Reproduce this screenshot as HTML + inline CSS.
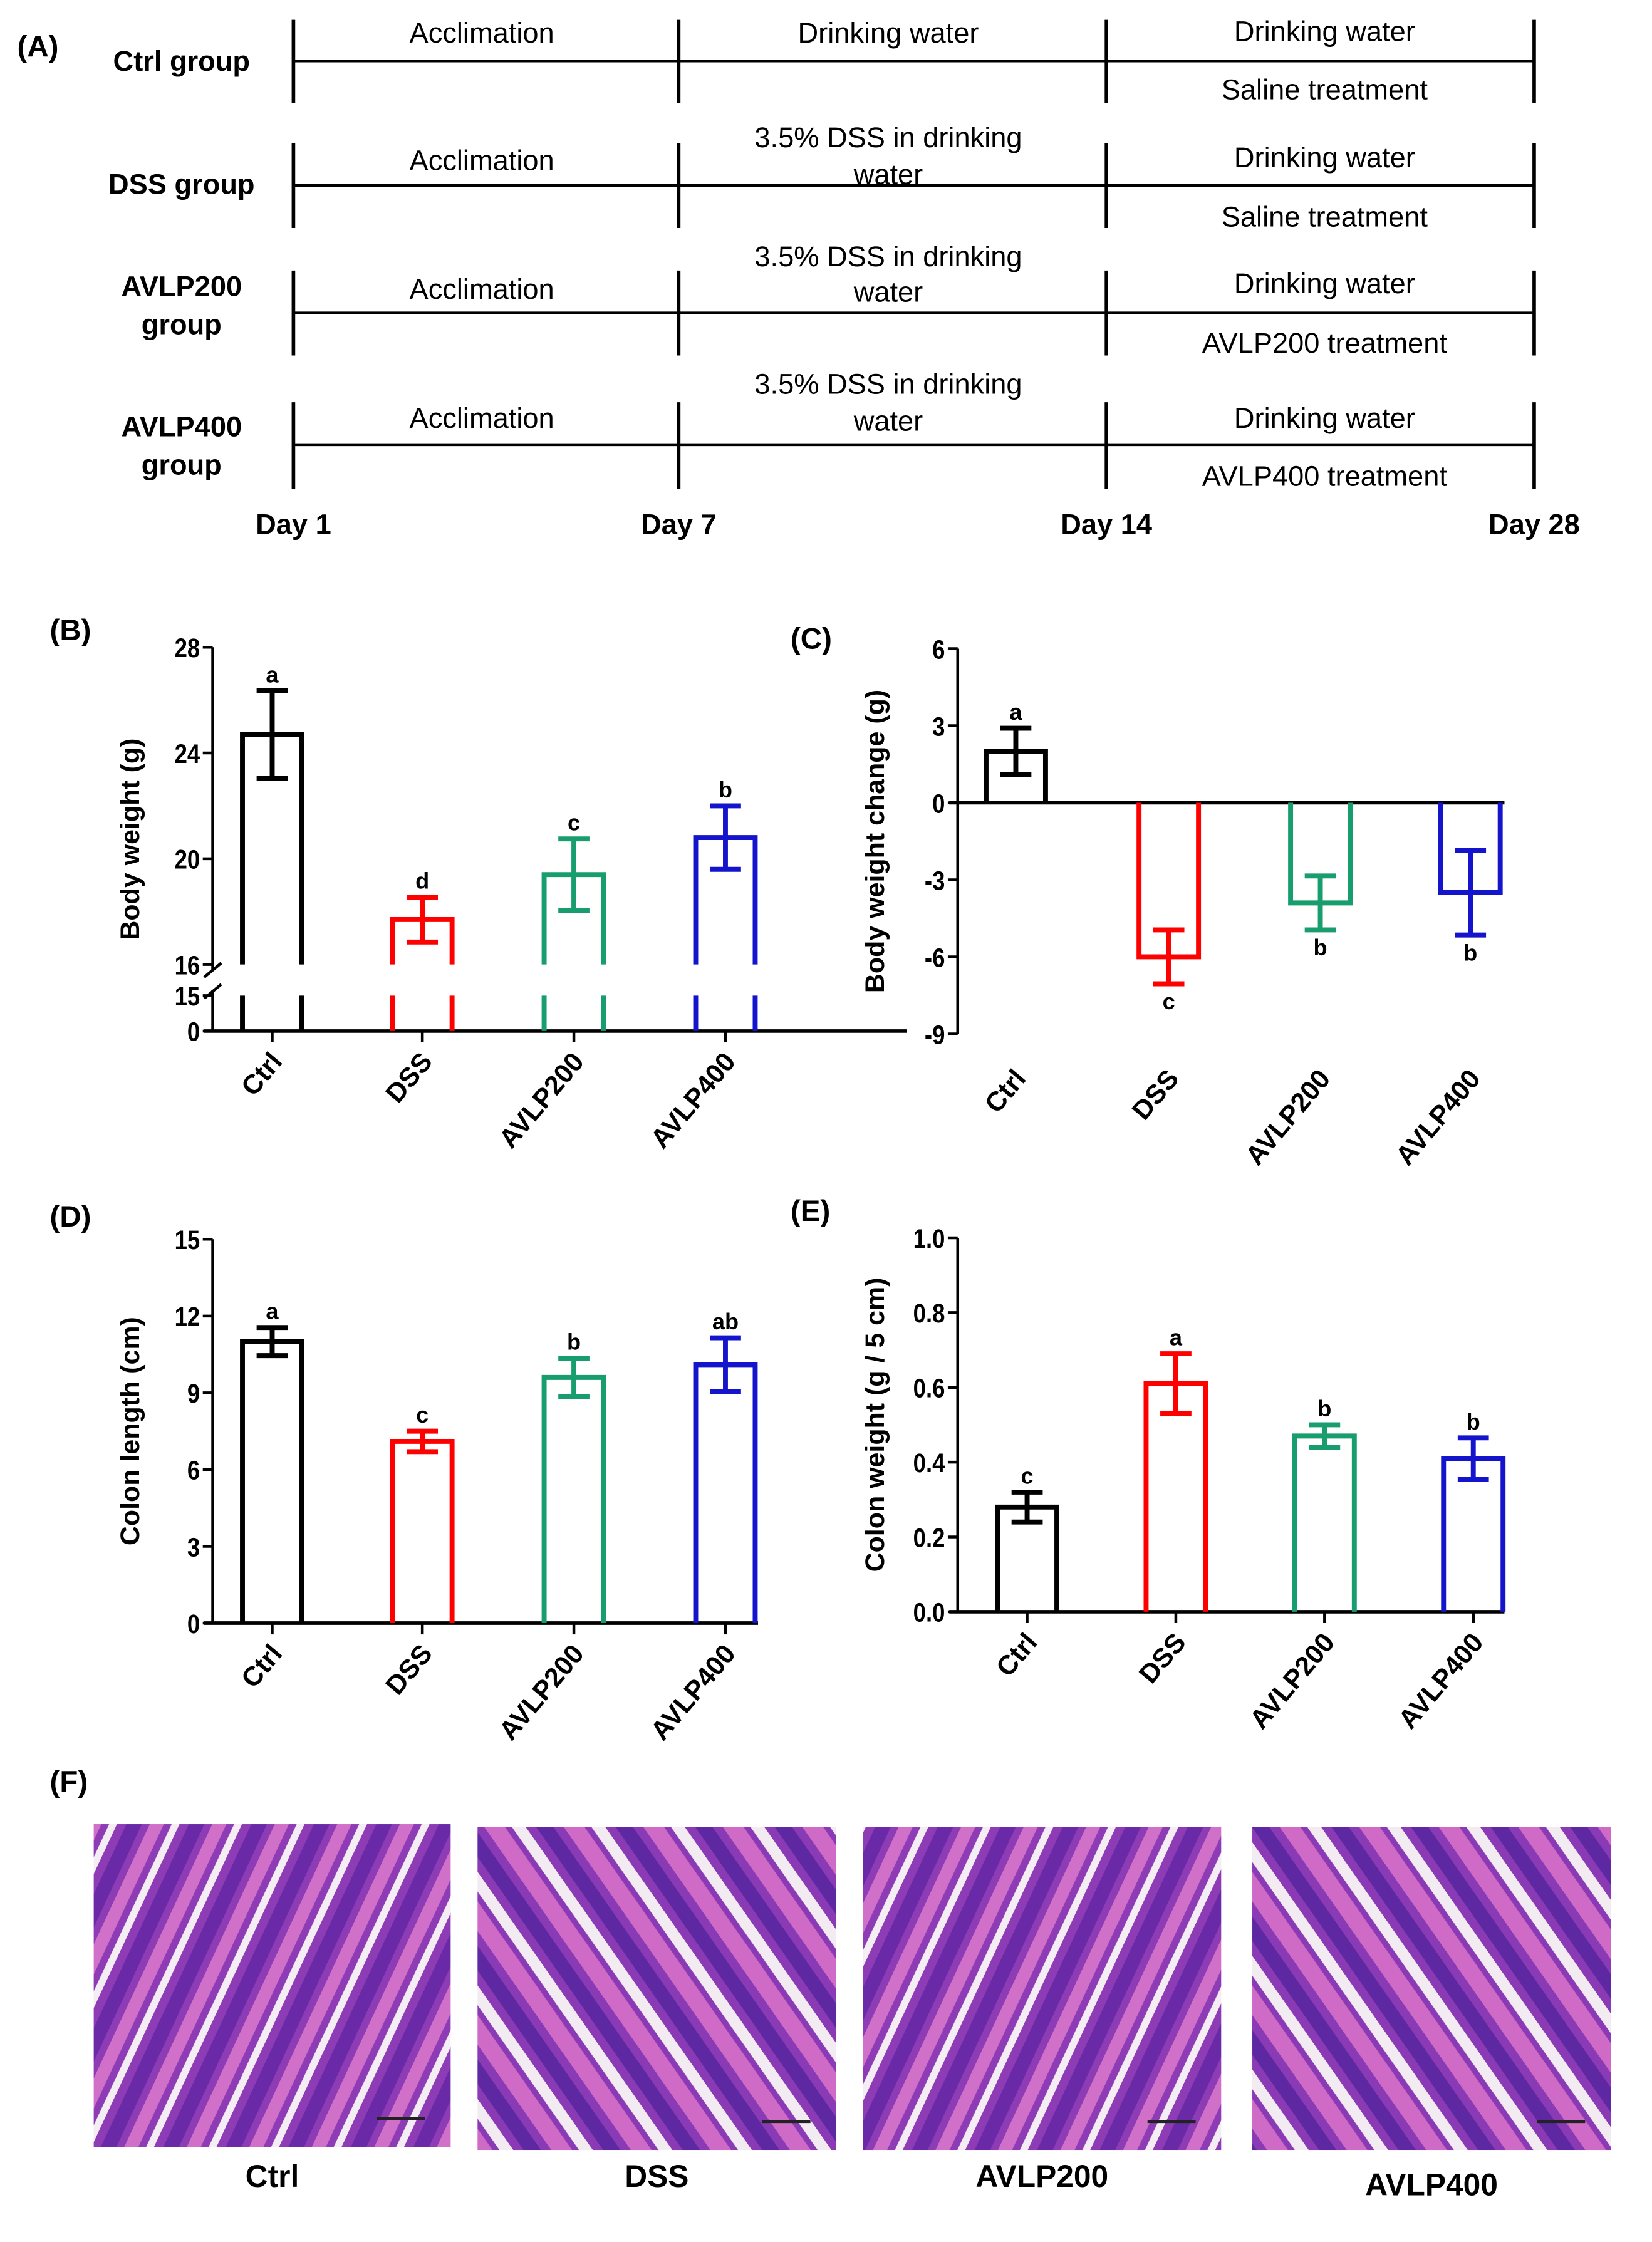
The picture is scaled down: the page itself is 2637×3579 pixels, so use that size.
<!DOCTYPE html>
<html><head><meta charset="utf-8"><style>
html,body{margin:0;padding:0;background:#fff}
svg{display:block}
text{font-family:"Liberation Sans",sans-serif}
</style></head><body>
<svg id="fig" width="2637" height="3579" viewBox="0 0 1166 1583" xmlns="http://www.w3.org/2000/svg">
<defs>
<pattern id="tis" width="40" height="40" patternUnits="userSpaceOnUse" patternTransform="rotate(25)">
<rect width="40" height="40" fill="#8e3cb5"/>
<rect x="0" y="0" width="9" height="40" fill="#d070c8"/>
<rect x="14" y="0" width="5" height="40" fill="#f4eef4"/>
<rect x="25" y="0" width="10" height="40" fill="#6a2aa8"/>
</pattern>
<pattern id="tis2" width="46" height="46" patternUnits="userSpaceOnUse" patternTransform="rotate(-35)">
<rect width="46" height="46" fill="#8a3ab4"/>
<rect x="0" y="0" width="12" height="46" fill="#cf6ac6"/>
<rect x="16" y="0" width="8" height="46" fill="#f2ecf2"/>
<rect x="30" y="0" width="10" height="46" fill="#5e28a2"/>
</pattern>
</defs>
<g id="panelA"></g>
<g id="charts"></g>
<g id="panelF"></g>
</svg>
<script>
const NS="http://www.w3.org/2000/svg";
const svg=document.getElementById('fig');
function el(tag,attrs,parent,txt){const e=document.createElementNS(NS,tag);for(const k in attrs)e.setAttribute(k,attrs[k]);if(txt!==undefined)e.textContent=txt;(parent||svg).appendChild(e);return e;}

// ---------- Panel A ----------
const A=document.getElementById('panelA');
const pl=el('text',{x:12,y:40,'font-family':'Liberation Serif','font-weight':'bold','font-size':21},A,'(A)');


const rowsY=[43,131,221,314];
const rowTop=[14,101,191,284];
const rowBot=[73,161,251,345];
const vx=[207,479,781,1083];
const groupNames=[['Ctrl group'],['DSS group'],['AVLP200','group'],['AVLP400','group']];
const groupNameY=[[50],[137],[209,236],[308,335]];
const seg1=['Acclimation','Acclimation','Acclimation','Acclimation'];
const seg1Y=[30,120,211,302];
const seg2=[['Drinking water'],['3.5% DSS in drinking','water'],['3.5% DSS in drinking','water'],['3.5% DSS in drinking','water']];
const seg2Y=[[30],[104,130],[188,213],[278,304]];
const seg3a=['Drinking water','Drinking water','Drinking water','Drinking water'];
const seg3aY=[29,118,207,302];
const seg3b=['Saline treatment','Saline treatment','AVLP200 treatment','AVLP400 treatment'];
const seg3bY=[70,160,249,343];
for(let i=0;i<4;i++){
  const l=el('line',{x1:vx[0],x2:vx[3],y1:rowsY[i],y2:rowsY[i],stroke:'#000','stroke-width':2},A);
  
  
  vx.forEach(x=>el('line',{x1:x,x2:x,y1:rowTop[i],y2:rowBot[i],stroke:'#000','stroke-width':2.5},A));
  groupNames[i].forEach((t,j)=>{const g=el('text',{x:128,y:groupNameY[i][j],'text-anchor':'middle','font-weight':'bold','font-size':20},A,t);
    
    });
  el('text',{x:340,y:seg1Y[i],'text-anchor':'middle','font-size':20},A,seg1[i]);
  seg2[i].forEach((t,j)=>el('text',{x:627,y:seg2Y[i][j],'text-anchor':'middle','font-size':20},A,t));
  el('text',{x:935,y:seg3aY[i],'text-anchor':'middle','font-size':20},A,seg3a[i]);
  el('text',{x:935,y:seg3bY[i],'text-anchor':'middle','font-size':20},A,seg3b[i]);
}
const days=['Day 1','Day 7','Day 14','Day 28'];
days.forEach((d,i)=>{const t=el('text',{x:vx[i],y:377,'text-anchor':'middle','font-weight':'bold','font-size':20},A,d);
  
  });

// ---------- Chart data ----------
const categories=['Ctrl','DSS','AVLP200','AVLP400'];
const colors=['#000000','#ff0000','#189e6e','#1414cc'];
const bwMean=[24.7,17.7,19.4,20.8];
const bwSD=[1.65,0.85,1.35,1.2];
const bwLetters=['a','d','c','b'];
const bwTicks=[16,20,24,28];
const bcMean=[2.0,-6.0,-3.9,-3.5];
const bcSD=[0.9,1.05,1.05,1.65];
const bcLetters=['a','c','b','b'];
const bcTicks=[-9,-6,-3,0,3,6];
const clMean=[11.0,7.1,9.6,10.1];
const clSD=[0.55,0.4,0.75,1.05];
const clLetters=['a','c','b','ab'];
const clTicks=[0,3,6,9,12,15];
const cwMean=[0.28,0.61,0.47,0.41];
const cwSD=[0.04,0.08,0.03,0.055];
const cwLetters=['c','a','b','b'];
const cwTicks=[0,0.2,0.4,0.6,0.8,1.0];

const C=document.getElementById('charts');
function chart(o){
  const g=el('g',{},C);
  
  
  const y=v=>o.y0-(v-o.min)/(o.max-o.min)*(o.y0-o.y1);
  const lab=el('text',{x:o.labX,y:o.labY,'font-family':'Liberation Serif','font-weight':'bold','font-size':21},g,o.label);
  
  
  const xAxisY=o.xAxisY!==undefined?o.xAxisY:y(o.baseline);
  const axBot=o.axBottom||xAxisY;
  const ya=el('line',{x1:o.ax,x2:o.ax,y1:o.y1,y2:axBot,stroke:'#000','stroke-width':2},g);
  
  
  o.ticks.forEach(t=>{
    el('line',{x1:o.ax-7,x2:o.ax,y1:y(t),y2:y(t),stroke:'#000','stroke-width':2},g);
    const tl=el('text',{x:o.ax-9,y:y(t)+7,'text-anchor':'end','font-size':19,'font-weight':'bold',transform:`translate(${o.ax-9},0) scale(0.85,1) translate(${-(o.ax-9)},0)`},g,o.fmt?o.fmt(t):String(t));
    
    
  });
  const ty=(o.y1+axBot)/2;
  const yt=el('text',{x:o.ax-52,y:ty,'text-anchor':'middle','font-size':19,'font-weight':'bold',transform:`rotate(-90 ${o.ax-52} ${ty})`},g,o.title);
  
  
  const xa=el('line',{x1:o.ax-6,x2:o.xEnd,y1:xAxisY,y2:xAxisY,stroke:'#000','stroke-width':2.5},g);
  
  
  const bw=o.bw;
  const labBase=o.labelBase!==undefined?o.labelBase:xAxisY;
  categories.forEach((c,i)=>{
    const cx=o.xs[i];
    if(o.labelBase===undefined) el('line',{x1:cx,x2:cx,y1:xAxisY,y2:xAxisY+8,stroke:'#000','stroke-width':2},g);
    const m=o.mean[i],sd=o.sd[i],col=colors[i];
    const bg=el('g',{},g);
    
    
    const top=y(m);
    if(o.broken){
      el('path',{d:`M${cx-bw/2},${o.breakTop} V${top} H${cx+bw/2} V${o.breakTop}`,fill:'none',stroke:col,'stroke-width':3.5},bg);
      el('line',{x1:cx-bw/2,x2:cx-bw/2,y1:o.breakBot,y2:xAxisY,stroke:col,'stroke-width':3.5},bg);
      el('line',{x1:cx+bw/2,x2:cx+bw/2,y1:o.breakBot,y2:xAxisY,stroke:col,'stroke-width':3.5},bg);
    } else {
      el('path',{d:`M${cx-bw/2},${xAxisY} V${top} H${cx+bw/2} V${xAxisY}`,fill:'none',stroke:col,'stroke-width':3.5},bg);
    }
    const hi=y(m+sd),lo=y(m-sd);
    el('line',{x1:cx,x2:cx,y1:hi,y2:lo,stroke:col,'stroke-width':3.5},bg);
    el('line',{x1:cx-11,x2:cx+11,y1:hi,y2:hi,stroke:col,'stroke-width':3.5},bg);
    el('line',{x1:cx-11,x2:cx+11,y1:lo,y2:lo,stroke:col,'stroke-width':3.5},bg);
    const below=m<0;
    const lt=el('text',{x:cx,y:below?lo+18:hi-6,'text-anchor':'middle','font-size':16,'font-weight':'bold'},g,o.letters[i]);
    
    
    const lx=cx+8,lyy=labBase+22;
    const xl=el('text',{x:lx,y:lyy,'text-anchor':'end','font-size':19,'font-weight':'bold',transform:`rotate(-50 ${lx} ${lyy})`},g,c);
    
    
  });
  return {g,y};
}
const B=chart({name:'body-weight-chart',label:'(B)',labX:35,labY:452,ax:150,y0:681,y1:457,min:16,max:28,ticks:bwTicks,
  title:'Body weight (g)',xAxisY:728,xEnd:640,xs:[192,298,405,512],bw:42,mean:bwMean,sd:bwSD,letters:bwLetters,broken:true,breakTop:681,breakBot:703});
[[15,703],[0,728]].forEach(([v,py])=>{
  el('line',{x1:143,x2:150,y1:py,y2:py,stroke:'#000','stroke-width':2},B.g);
  const t=el('text',{x:141,y:py+7,'text-anchor':'end','font-size':19,'font-weight':'bold',transform:`translate(141,0) scale(0.85,1) translate(-141,0)`},B.g,String(v));
  
  
});
el('rect',{x:146,y:685,width:8,height:14,fill:'#fff'},B.g);
el('line',{x1:144,x2:156,y1:690,y2:680,stroke:'#000','stroke-width':2},B.g);
el('line',{x1:144,x2:156,y1:705,y2:695,stroke:'#000','stroke-width':2},B.g);
chart({name:'body-weight-change-chart',label:'(C)',labX:558,labY:458,ax:676,y0:730,y1:458,min:-9,max:6,ticks:bcTicks,baseline:0,axBottom:730,labelBase:740,
  title:'Body weight change (g)',xEnd:1062,xs:[717,825,932,1038],bw:42,mean:bcMean,sd:bcSD,letters:bcLetters});
chart({name:'colon-length-chart',label:'(D)',labX:35,labY:866,ax:150,y0:1146,y1:875,min:0,max:15,ticks:clTicks,baseline:0,
  title:'Colon length (cm)',xEnd:535,xs:[192,298,405,512],bw:42,mean:clMean,sd:clSD,letters:clLetters});
chart({name:'colon-weight-chart',label:'(E)',labX:558,labY:862,ax:676,y0:1138,y1:874,min:0,max:1,ticks:cwTicks,baseline:0,fmt:v=>v.toFixed(1),
  title:'Colon weight (g / 5 cm)',xEnd:1062,xs:[725,830,935,1040],bw:42,mean:cwMean,sd:cwSD,letters:cwLetters});

// ---------- Panel F ----------
const F=document.getElementById('panelF');
el('text',{x:35,y:1265,'font-family':'Liberation Serif','font-weight':'bold','font-size':21},F,'(F)');
const imgX=[66,337,609,884];
const imgW=[252,253,253,253];
const imgY=[1288,1290,1290,1290];
const imgH=[228,228,228,228];
const imgLab=['Ctrl','DSS','AVLP200','AVLP400'];
const labY=[1544,1544,1544,1550];
imgX.forEach((x,i)=>{
  const r=el('rect',{x:x,y:imgY[i],width:imgW[i],height:imgH[i],fill:i%2?'url(#tis2)':'url(#tis)'},F);
  
  
  el('line',{x1:x+imgW[i]-52,x2:x+imgW[i]-18,y1:imgY[i]+208,y2:imgY[i]+208,stroke:'#222','stroke-width':2},F);
  const t=el('text',{x:x+imgW[i]/2,y:labY[i],'text-anchor':'middle','font-size':22,'font-weight':'bold'},F,imgLab[i]);
  
  
});
</script>
</body></html>
